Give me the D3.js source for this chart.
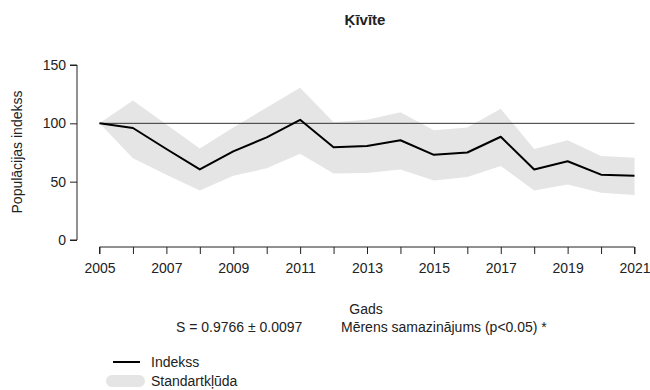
<!DOCTYPE html>
<html>
<head>
<meta charset="utf-8">
<script src="https://cdn.jsdelivr.net/npm/d3@7"></script>
<style>
  body { margin: 0; background: #fff; }
  text { font-family: "Liberation Sans", Arial, sans-serif; fill: #222; }
</style>
</head>
<body>
<svg width="650" height="390"></svg>
<script>
const years = d3.range(2005, 2022)
const indexValues = [100, 96, 78, 60.5, 76, 88, 103, 79.5, 80.5, 85.5, 73, 75, 88.5, 60.5, 67.5, 56, 55]
const upperValues = [100, 119.5, 99, 78.5, 96.5, 113.5, 130.5, 101, 103, 109.5, 94, 96.5, 112.5, 78, 85.5, 72, 70.5]
const lowerValues = [100, 70, 56, 42.5, 55, 61.5, 74, 57, 57.5, 60.5, 51, 54, 63.5, 42.5, 47.5, 40.5, 38.5]
const yTicks = [0, 50, 100, 150]
const xLabelYears = [2005, 2007, 2009, 2011, 2013, 2015, 2017, 2019, 2021]

const svg = d3.select("svg")

const x = d3.scaleLinear().domain([2005, 2021]).range([99.5, 634.5])
const y = d3.scaleLinear().domain([0, 150]).range([240, 65])

const rows = years.map((yr, i) => ({ yr, v: indexValues[i], hi: upperValues[i], lo: lowerValues[i] }))

// standard error band
const band = d3.area()
    .x(d => x(d.yr))
    .y0(d => y(d.lo))
    .y1(d => y(d.hi))

svg.append("path")
    .datum(rows)
    .attr("d", band)
    .attr("fill", "#e5e5e5")

// reference line at 100
svg.append("line")
    .attr("x1", x(2005)).attr("x2", x(2021))
    .attr("y1", y(100)).attr("y2", y(100))
    .attr("stroke", "#333")
    .attr("stroke-width", 1)

const line = d3.line()
    .x(d => x(d.yr))
    .y(d => y(d.v))

svg.append("path")
    .datum(rows)
    .attr("d", line)
    .attr("fill", "none")
    .attr("stroke", "#000")
    .attr("stroke-width", 2)
    .attr("stroke-linejoin", "round")

// axes, R base-graphics style
const yAxis = svg.append("g")
    .attr("transform", "translate(77,0)")
    .call(d3.axisLeft(y).tickValues(yTicks).tickSize(7).tickPadding(4).tickFormat(d3.format("d")))
yAxis.select(".domain").attr("d", `M-7,${y(150)}H0V${y(0)}H-7`)

const xAxis = svg.append("g")
    .attr("transform", "translate(0,247)")
    .call(d3.axisBottom(x).tickValues(years).tickSize(7).tickPadding(9)
        .tickFormat(d => xLabelYears.includes(d) ? String(d) : ""))
xAxis.select(".domain").attr("d", `M${x(2005)},7V0H${x(2021)}V7`)

svg.selectAll(".tick text").style("font-size", "14px").attr("fill", "#222")
    .style("font-family", '"Liberation Sans", Arial, sans-serif')
svg.selectAll(".tick line, .domain").attr("stroke", "#222")

// titles
svg.append("text")
    .attr("x", 365).attr("y", 25)
    .attr("text-anchor", "middle")
    .style("font-size", "15px").style("font-weight", "bold")
    .text("Ķīvīte")

svg.append("text")
    .attr("transform", "translate(22,152) rotate(-90)")
    .attr("text-anchor", "middle")
    .style("font-size", "14px")
    .text("Populācijas indekss")

svg.append("text")
    .attr("x", 366).attr("y", 314)
    .attr("text-anchor", "middle")
    .style("font-size", "14px")
    .text("Gads")

svg.append("text")
    .attr("x", 176).attr("y", 332)
    .style("font-size", "14px")
    .text("S = 0.9766 ± 0.0097")

svg.append("text")
    .attr("x", 341).attr("y", 332)
    .style("font-size", "14px")
    .text("Mērens samazinājums (p<0.05) *")

// legend
const legend = svg.append("g")
legend.append("line")
    .attr("x1", 113).attr("x2", 140).attr("y1", 362).attr("y2", 362)
    .attr("stroke", "#000").attr("stroke-width", 2)
legend.append("line")
    .attr("x1", 112).attr("x2", 139).attr("y1", 381).attr("y2", 381)
    .attr("stroke", "#e5e5e5").attr("stroke-width", 12).attr("stroke-linecap", "round")
legend.append("text").attr("x", 151).attr("y", 367).style("font-size", "14px").text("Indekss")
legend.append("text").attr("x", 151).attr("y", 386).style("font-size", "14px").text("Standartkļūda")
</script>
</body>
</html>
